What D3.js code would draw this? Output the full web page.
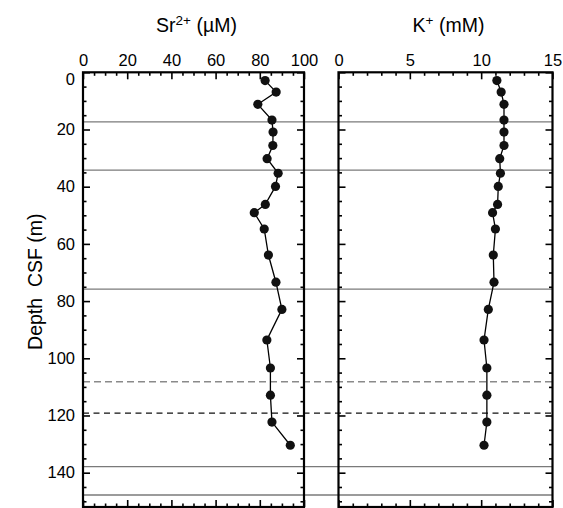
<!DOCTYPE html>
<html lang="en">
  <head>
    <meta charset="UTF-8" />
    <title>Sr and K profiles</title>
    <script src="https://d3js.org/d3.v7.min.js"></script>
    <style>
      body { margin: 0; background: #fff; }
      svg text { font-family: "Liberation Sans", Arial, Helvetica, sans-serif; fill: #000; }
    </style>
  </head>
  <body>
    <svg id="chart" width="563" height="508"></svg>
    <script>
      // depth of each pore-water sample (m CSF)
      const depth = [2.9, 6.9, 11.2, 16.7, 20.9, 25.6, 30.2, 35.3, 39.9, 46.2,
                     49.1, 54.8, 63.9, 73.4, 82.9, 93.6, 103.4, 112.9, 122.3, 130.4];
      const strontium = [82.4, 87.4, 79.1, 85.5, 86.0, 85.9, 83.3, 88.3, 87.1, 82.5,
                         77.5, 82.0, 83.9, 87.3, 90.0, 83.2, 84.8, 84.8, 85.5, 93.8];
      const potassium = [11.1, 11.4, 11.6, 11.6, 11.6, 11.6, 11.3, 11.35, 11.2, 11.15,
                         10.8, 11.0, 10.85, 10.9, 10.5, 10.2, 10.4, 10.4, 10.4, 10.2];

      // unit boundaries (m)
      const solidBounds = [17.3, 34.2, 75.8, 137.9, 147.8];
      const greyDashBounds = [108.2];
      const blackDashBounds = [119.2];

      const srTicks = [0, 20, 40, 60, 80, 100];
      const kTicks = [0, 5, 10, 15];
      const depthTicks = [0, 20, 40, 60, 80, 100, 120, 140];

      const svg = d3.select("#chart");
      const yTop = 72.3, yBottom = 507;

      const y = d3.scaleLinear().domain([0, 152]).range([yTop, yBottom]);

      const panels = [
        { values: strontium, x: d3.scaleLinear().domain([0, 100]).range([83, 304]),
          major: srTicks, minorStep: 5, title: ["Sr", "2+", " (\u00b5M)"], labelY: true },
        { values: potassium, x: d3.scaleLinear().domain([0, 15]).range([338.5, 552.5]),
          major: kTicks, minorStep: 1, title: ["K", "+", " (mM)"], labelY: false }
      ];

      const depthMinor = d3.range(0, 153, 5);

      // boundary lines, across both panels
      const lineG = svg.append("g");
      const x0 = panels[0].x.range()[0], x1 = panels[1].x.range()[1];
      function hlines(arr, color, dash) {
        lineG.selectAll(null).data(arr).enter().append("line")
          .attr("x1", x0).attr("x2", x1)
          .attr("y1", (d) => y(d)).attr("y2", (d) => y(d))
          .attr("stroke", color).attr("stroke-width", 1.3)
          .attr("stroke-dasharray", dash);
      }
      hlines(solidBounds, "#7a7a7a", null);
      hlines(greyDashBounds, "#8a8a8a", "7,4");
      hlines(blackDashBounds, "#111", "6,4.5");

      panels.forEach((p) => {
        const g = svg.append("g");
        const [l, r] = p.x.range();
        const minor = d3.range(p.x.domain()[0], p.x.domain()[1] + 0.001, p.minorStep)
          .filter((v) => !p.major.includes(v));
        const dMinor = depthMinor.filter((v) => !depthTicks.includes(v));

        function addAxis(axis, transform, showText) {
          const a = g.append("g").attr("transform", transform).call(axis);
          a.select(".domain").remove();
          a.selectAll("line").attr("stroke", "#000").attr("stroke-width", 1.6);
          a.selectAll("text").style("font-size", "16.5px").attr("fill", "#000");
          if (!showText) a.selectAll("text").remove();
          return a;
        }

        // top axis with labels
        addAxis(d3.axisTop(p.x).tickValues(p.major).tickSize(-7).tickPadding(6)
          .tickFormat(d3.format("d")), `translate(0,${yTop})`, true);
        addAxis(d3.axisTop(p.x).tickValues(minor).tickSize(-3.5).tickFormat(""),
          `translate(0,${yTop})`, false);
        // bottom axis
        addAxis(d3.axisBottom(p.x).tickValues(p.major).tickSize(-7).tickFormat(""),
          `translate(0,${yBottom})`, false);
        addAxis(d3.axisBottom(p.x).tickValues(minor).tickSize(-3.5).tickFormat(""),
          `translate(0,${yBottom})`, false);
        // left axis
        const la = addAxis(d3.axisLeft(y).tickValues(depthTicks).tickSize(-7).tickPadding(8)
          .tickFormat(d3.format("d")), `translate(${l},0)`, p.labelY);
        // the 0 label sits a little lower, clear of the top axis labels
        la.selectAll("text").filter((d) => d === 0).attr("dy", "0.75em");
        addAxis(d3.axisLeft(y).tickValues(dMinor).tickSize(-3.5).tickFormat(""),
          `translate(${l},0)`, false);
        // right axis
        addAxis(d3.axisRight(y).tickValues(depthTicks).tickSize(-7).tickFormat(""),
          `translate(${r},0)`, false);
        addAxis(d3.axisRight(y).tickValues(dMinor).tickSize(-3.5).tickFormat(""),
          `translate(${r},0)`, false);

        // frame
        g.append("rect")
          .attr("x", l).attr("y", yTop)
          .attr("width", r - l).attr("height", yBottom - yTop)
          .attr("fill", "none").attr("stroke", "#000").attr("stroke-width", 2.2);

        // profile
        const pts = depth.map((d, i) => [p.x(p.values[i]), y(d)]);
        g.append("path")
          .attr("d", d3.line()(pts))
          .attr("fill", "none").attr("stroke", "#000").attr("stroke-width", 1.3);
        g.selectAll("circle").data(pts).enter().append("circle")
          .attr("cx", (d) => d[0]).attr("cy", (d) => d[1]).attr("r", 4.6)
          .attr("fill", "#111");

        // title
        const t = svg.append("text")
          .attr("x", (l + r) / 2 + 3).attr("y", 32)
          .attr("text-anchor", "middle").style("font-size", "19.5px");
        t.append("tspan").text(p.title[0]);
        t.append("tspan").text(p.title[1]).attr("dy", -7).style("font-size", "13.5px");
        t.append("tspan").text(p.title[2]).attr("dy", 7);
      });

      // y-axis title
      svg.append("text")
        .attr("transform", `translate(42,${(yTop + yBottom) / 2 - 8}) rotate(-90)`)
        .attr("text-anchor", "middle")
        .style("font-size", "19.5px")
        .style("white-space", "pre")
        .text("Depth  CSF (m)");
    </script>
  </body>
</html>
